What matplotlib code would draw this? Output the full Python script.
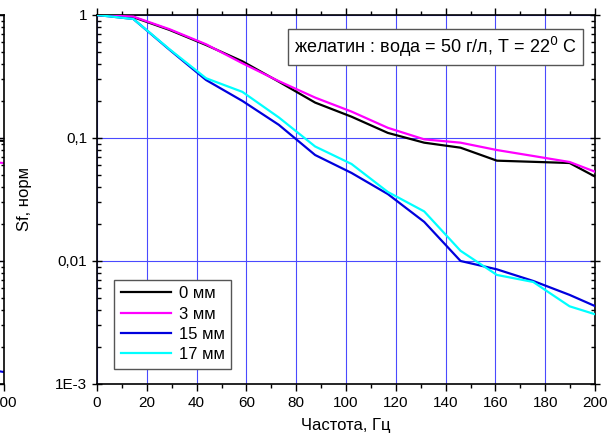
import matplotlib
matplotlib.use("Agg")
import matplotlib.pyplot as plt
from matplotlib.ticker import FixedLocator, LogLocator, NullFormatter, MultipleLocator

plt.rcParams['font.family'] = ['Liberation Sans', 'DejaVu Sans']

# frequencies, Hz
freq = [0, 14.6, 29.2, 43.8, 58.4, 73.0, 87.6, 102.2, 116.8, 131.4, 146.0, 160.6, 175.2, 189.8, 200]

# normalised spectra for each distance
s_0mm = [1.0, 0.96, 0.755, 0.57, 0.42, 0.287, 0.194, 0.149, 0.110, 0.0916, 0.0834, 0.0654, 0.064, 0.0626, 0.0486]
s_3mm = [1.0, 0.97, 0.765, 0.578, 0.405, 0.29, 0.213, 0.164, 0.121, 0.0975, 0.0916, 0.0798, 0.0714, 0.0638, 0.0532]
s_15mm = [1.0, 0.928, 0.52, 0.296, 0.2, 0.128, 0.0727, 0.052, 0.035, 0.0208, 0.0100, 0.00855, 0.00688, 0.0053, 0.0043]
s_17mm = [1.0, 0.928, 0.525, 0.306, 0.237, 0.147, 0.0853, 0.0615, 0.0364, 0.0253, 0.0121, 0.0077, 0.00675, 0.00428, 0.00369]

labels = ['0 мм', '3 мм', '15 мм', '17 мм']
colors = ['black', '#ff00ff', '#0000dd', '#00ffff']

# neighbouring panel (only its right edge is visible)
left_freq = [185, 200]
left_0mm = [0.098, 0.0946]
left_3mm = [0.066, 0.0626]
left_15mm = [0.0014, 0.00125]

yticks = [1e-3, 1e-2, 1e-1, 1]
ytick_labels = ['1E-3', '0,01', '0,1', '1']
grid_color = '#4a4aff'

fig = plt.figure(figsize=(6.11, 4.41), dpi=100)

# --- cut-off neighbour panel on the left ---
axl = fig.add_axes([0.0066 - 0.8, 0.1293, 0.8, 0.8367])
axl.set_yscale('log')
axl.set_xlim(0, 200)
axl.set_ylim(1e-3, 1)
for yy, c in zip([left_0mm, left_3mm, left_15mm], colors[:3]):
    axl.plot(left_freq, yy, color=c, lw=1.5)
axl.yaxis.set_major_locator(FixedLocator(yticks))
axl.yaxis.set_minor_locator(LogLocator(subs=range(2, 10)))
axl.yaxis.set_major_formatter(NullFormatter())
axl.yaxis.set_minor_formatter(NullFormatter())
axl.xaxis.set_major_locator(FixedLocator([200]))
axl.set_xticklabels(['200'], fontsize=11)
axl.tick_params(axis='x', direction='out', length=5, width=1)
axl.tick_params(axis='y', which='both', right=True, direction='in', width=1)
axl.grid(True, axis='y', which='major', color=grid_color, lw=0.8)
for s in axl.spines.values():
    s.set_linewidth(1.2)

# --- main panel ---
ax = fig.add_axes([0.1588, 0.1293, 0.815, 0.8367])
ax.set_yscale('log')
for yy, c, lab in zip([s_0mm, s_3mm, s_15mm, s_17mm], colors, labels):
    ax.plot(freq, yy, color=c, lw=1.6, label=lab, zorder=3)

ax.set_xlim(0, 200)
ax.set_ylim(1e-3, 1)
ax.xaxis.set_major_locator(MultipleLocator(20))
ax.xaxis.set_minor_locator(MultipleLocator(10))
ax.yaxis.set_major_locator(FixedLocator(yticks))
ax.set_yticklabels(ytick_labels)
ax.yaxis.set_minor_locator(LogLocator(subs=range(2, 10)))
ax.yaxis.set_minor_formatter(NullFormatter())

ax.tick_params(axis='both', labelsize=11)
ax.tick_params(axis='x', which='major', direction='out', length=5, width=1, top=True)
ax.tick_params(axis='x', which='minor', direction='out', length=3, width=1, top=True)
ax.tick_params(axis='y', which='major', direction='inout', length=7, width=1, right=True)
ax.tick_params(axis='y', which='minor', direction='in', length=3, width=1, right=True)
ax.grid(True, which='major', color=grid_color, lw=0.8)
for s in ax.spines.values():
    s.set_linewidth(1.2)

ax.set_xlabel('Частота, Гц', fontsize=12, labelpad=6)
ax.set_ylabel('Sf, норм', fontsize=12)
ax.yaxis.set_label_coords(-0.13, 0.5)

leg = ax.legend(loc='lower left', bbox_to_anchor=(0.034, 0.041), borderaxespad=0,
                fontsize=12, handlelength=3.0, handletextpad=0.5, borderpad=0.4,
                labelspacing=0.32, fancybox=False, framealpha=1)
leg.get_frame().set_edgecolor('#555555')
leg.get_frame().set_linewidth(1.0)
for ln in leg.get_lines():
    ln.set_linewidth(1.6)

ax.text(0.68, 0.913, 'желатин : вода = 50 г/л, T = 22$^0$ C', transform=ax.transAxes,
        ha='center', va='center', fontsize=13, zorder=5,
        bbox=dict(boxstyle='square,pad=0.32', fc='white', ec='#555555', lw=1.0))

fig.savefig('out.png', dpi=100)
